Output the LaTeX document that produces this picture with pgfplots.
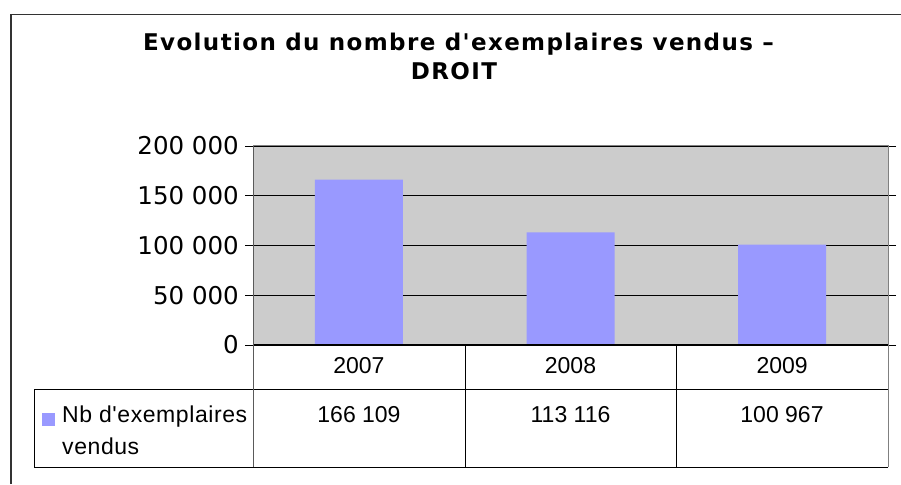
\documentclass[border=0pt]{standalone}
\usepackage{pgfplots}
\pgfplotsset{compat=1.18}
\usepackage{fontspec}
\setmainfont{DejaVu Sans}
\newfontfamily\titlefont{DejaVu Sans}[Ligatures=TeXOff, LetterSpace=6]
\newfontfamily\arial{Liberation Sans}
\newfontfamily\arialsp{Liberation Sans}[LetterSpace=2.5]
\definecolor{barblue}{RGB}{153,153,255}
\definecolor{plotgray}{RGB}{204,204,204}
\definecolor{framegray}{RGB}{128,128,128}
\definecolor{axisdark}{RGB}{90,90,90}

\begin{document}
\begin{tikzpicture}[x=1pt,y=1pt]
\useasboundingbox (0,0) rectangle (901,484);
% outer frame (cut at right and bottom)
\draw[line width=1.5pt, black!80] (11,0) -- (11,469.5) -- (901,469.5);
% title
\node[anchor=base, font=\titlefont\bfseries\fontsize{23}{23}\selectfont] at (458.5,433) {Evolution du nombre d'exemplaires vendus –};
\node[anchor=base, font=\titlefont\bfseries\fontsize{23}{23}\selectfont] at (454,404) {DROIT};

\begin{axis}[
  at={(253pt,139pt)}, anchor=south west,
  scale only axis, width=635pt, height=199pt,
  xmin=-0.5, xmax=2.5, ymin=0, ymax=200000,
  axis background/.style={fill=plotgray},
  axis line style={framegray, line width=1pt},
  ytick={0,50000,100000,150000,200000},
  yticklabels={0,50 000,100 000,150 000,200 000},
  ymajorgrids, grid style={black, line width=0.8pt},
  tick align=outside, major tick length=8pt,
  ytick style={black, line width=0.8pt},
  xtick={0,1,2}, xticklabels={2007,2008,2009},
  xtick style={draw=none},
  yticklabel style={font=\fontsize{24.5}{24.5}\selectfont, inner sep=0pt, xshift=-6pt},
  xticklabel style={font=\arial\fontsize{23}{23}\selectfont, anchor=base, yshift=-21pt},
  scaled y ticks=false, clip=false,
]
\addplot[ybar, bar width=88pt, fill=barblue, draw=none]
  coordinates {(0,166109) (1,113116) (2,100967)};
\draw[black, line width=1pt] (axis cs:-0.5,0) -- (axis cs:2.5,0);
\draw[axisdark, line width=1pt] (axis cs:-0.5,0) -- (axis cs:-0.5,200000);
\end{axis}

% data table below the plot
\draw[black, line width=1pt] (34,94) -- (888,94);
\draw[black, line width=1pt] (34,17) -- (888,17);
\draw[black, line width=1pt] (34,17) -- (34,94);
\draw[black, line width=1pt] (465,17) -- (465,139);
\draw[black, line width=1pt] (676,17) -- (676,139);
\draw[framegray, line width=1pt] (888,17) -- (888,139);
\draw[axisdark, line width=1pt] (253,17) -- (253,139);
\fill[barblue] (42,58) rectangle (55,71);
\node[anchor=base west, inner sep=0pt, font=\arialsp\fontsize{23}{23}\selectfont] at (62,61) {Nb d'exemplaires};
\node[anchor=base west, inner sep=0pt, font=\arialsp\fontsize{23}{23}\selectfont] at (62,29) {vendus};
\node[anchor=base, font=\arial\fontsize{23}{23}\selectfont] at (359,61) {166 109};
\node[anchor=base, font=\arial\fontsize{23}{23}\selectfont] at (570.5,61) {113 116};
\node[anchor=base, font=\arial\fontsize{23}{23}\selectfont] at (782,61) {100 967};
\end{tikzpicture}
\end{document}
